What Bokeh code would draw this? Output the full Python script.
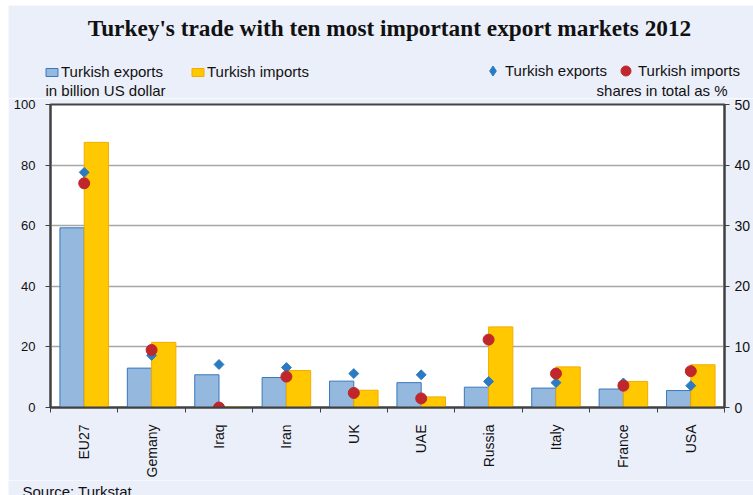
import numpy as np
from bokeh.plotting import figure
from bokeh.layouts import column
from bokeh.models import (ColumnDataSource, Range1d, LinearAxis, FixedTicker,
                          Label, Legend, LegendItem)
from bokeh.embed import file_html
from bokeh.resources import INLINE

# ---------------- data ----------------
categories = ["EU27", "Gemany", "Iraq", "Iran", "UK", "UAE", "Russia", "Italy", "France", "USA"]
exports_bn = [59.3, 13.0, 10.8, 9.9, 8.7, 8.2, 6.7, 6.4, 6.1, 5.6]
imports_bn = [87.5, 21.5, 0.2, 12.2, 5.7, 3.5, 26.6, 13.4, 8.6, 14.1]
exports_share = [38.8, 8.6, 7.1, 6.6, 5.6, 5.4, 4.3, 4.1, 4.05, 3.6]
imports_share = [37.0, 9.5, 0.0, 5.1, 2.4, 1.5, 11.2, 5.6, 3.6, 6.0]
left_ticks = [0, 20, 40, 60, 80, 100]
right_ticks = [0, 10, 20, 30, 40, 50]

n = len(categories)
centers = np.arange(n) + 0.5
bar_w = 0.36
src = ColumnDataSource(dict(
    x=centers, xe=centers - bar_w / 2, xi=centers + bar_w / 2,
    exp=exports_bn, imp=imports_bn, exs=exports_share, ims=imports_share,
    cat=categories))

BG = "#EBEFFA"
FONT = "Liberation Sans"
TXT = "#111111"
W = 745

BLUE_BAR = dict(fill_color="#95B8DF", line_color="#3779BD", line_width=1)
YEL_BAR = dict(fill_color="#FFC800", line_color="#F2AC00", line_width=1)
DIAM_C = dict(fill_color="#2B7BC2", line_color="#2B7BC2")
CIRC = dict(marker="circle", fill_color="#C0272D", line_color="#C0272D")


def blank(height):
    f = figure(width=W, height=height, x_range=Range1d(0, 1), y_range=Range1d(0, 1),
               output_backend="svg", toolbar_location=None,
               x_axis_location=None, y_axis_location=None, min_border=0,
               background_fill_color=BG, border_fill_color=BG, outline_line_color=None)
    f.xgrid.visible = False
    f.ygrid.visible = False
    f.frame_align = False
    return f


def lab(f, x, y, text, size="15px", align="left", font=FONT, style="normal"):
    f.add_layout(Label(x=x, y=y, x_units="screen", y_units="screen", text=text,
                       text_align=align, text_baseline="middle", text_font=font,
                       text_font_size=size, text_font_style=style, text_color=TXT))


# ---------------- main chart ----------------
p = figure(width=W, height=382, x_range=Range1d(0, n), y_range=Range1d(0, 100),
           output_backend="svg", toolbar_location=None,
           min_border_left=42, min_border_right=29, min_border_top=6, min_border_bottom=72,
           background_fill_color="white", border_fill_color=BG,
           outline_line_color="#444444", outline_line_width=2)
p.frame_align = False
p.extra_y_ranges = {"share": Range1d(0, 50)}

p.xgrid.visible = False
p.ygrid.ticker = FixedTicker(ticks=left_ticks)
p.ygrid.grid_line_color = "#A6A6A6"
p.ygrid.grid_line_width = 1.5

p.vbar(x="xe", top="exp", width=bar_w, source=src, **BLUE_BAR)
p.vbar(x="xi", top="imp", width=bar_w, source=src, **YEL_BAR)
p.scatter(x="x", y="exs", source=src, y_range_name="share", marker="square",
          angle=np.pi / 4, size=7, **DIAM_C)
p.scatter(x="x", y="ims", source=src, y_range_name="share", size=11, **CIRC)

xa = p.xaxis[0]
xa.ticker = FixedTicker(ticks=list(centers), minor_ticks=list(range(n + 1)))
xa.major_label_overrides = {float(c): cat for c, cat in zip(centers, categories)}
xa.major_label_orientation = np.pi / 2
xa.major_tick_line_color = None
xa.major_tick_out = 0
xa.major_tick_in = 0
xa.minor_tick_out = 5
xa.minor_tick_in = 0
xa.minor_tick_line_color = "#404040"
xa.major_label_standoff = 12

ya = p.yaxis[0]
ya.ticker = FixedTicker(ticks=left_ticks)
ya.major_tick_out = 5
ya.major_tick_in = 0
ya.major_label_standoff = 10

ra = LinearAxis(y_range_name="share", ticker=FixedTicker(ticks=right_ticks))
ra.major_tick_out = 5
ra.major_tick_in = 0
ra.major_label_standoff = 5
p.add_layout(ra, "right")

for ax in (xa, ya, ra):
    ax.axis_line_color = "#404040"
    ax.axis_line_width = 2
    ax.major_label_text_font = FONT
    ax.major_label_text_font_size = "14px"
    ax.major_label_text_color = TXT
    if ax is not xa:
        ax.major_tick_line_color = "#404040"
        ax.minor_tick_line_color = None
ya.major_label_text_font_size = "13px"

# ---------------- header (title + legends) ----------------
h = blank(93)
nan = np.array([np.nan])
lb = h.vbar(x=nan, top=nan, width=bar_w, **BLUE_BAR)
ly = h.vbar(x=nan, top=nan, width=bar_w, **YEL_BAR)
ld = h.scatter(x=nan, y=nan, marker="diamond", **DIAM_C)
lc = h.scatter(x=nan, y=nan, **CIRC)

leg_common = dict(orientation="horizontal", padding=0, margin=0, border_line_color=None,
                  background_fill_alpha=0, label_text_font=FONT,
                  label_text_font_size="15px", label_text_color=TXT)
leg_l = Legend(items=[LegendItem(label="Turkish exports", renderers=[lb]),
                      LegendItem(label="Turkish imports", renderers=[ly])],
               location=(36, 18), glyph_width=15, glyph_height=10, label_height=10,
               label_standoff=2, spacing=27, **leg_common)
leg_r = Legend(items=[LegendItem(label="Turkish exports", renderers=[ld]),
                      LegendItem(label="Turkish imports", renderers=[lc])],
               location=(472, 15), glyph_width=25, glyph_height=25, label_height=10,
               label_standoff=-5, spacing=6, **leg_common)
h.add_layout(leg_l)
h.add_layout(leg_r)

lab(h, 381, 71, "Turkey's trade with ten most important export markets 2012",
    size="23.3px", align="center", font="Liberation Serif", style="bold")
lab(h, 37, 8, "in billion US dollar")
lab(h, 719, 8, "shares in total as %", align="right")

# ---------------- footer ----------------
ft = blank(15)
lab(ft, 14, 4, "Source: Turkstat")

layout = column(h, p, ft, spacing=0)
layout.margin = (5, 0, 0, 8)

open("out.html", "w").write(file_html(layout, INLINE))
